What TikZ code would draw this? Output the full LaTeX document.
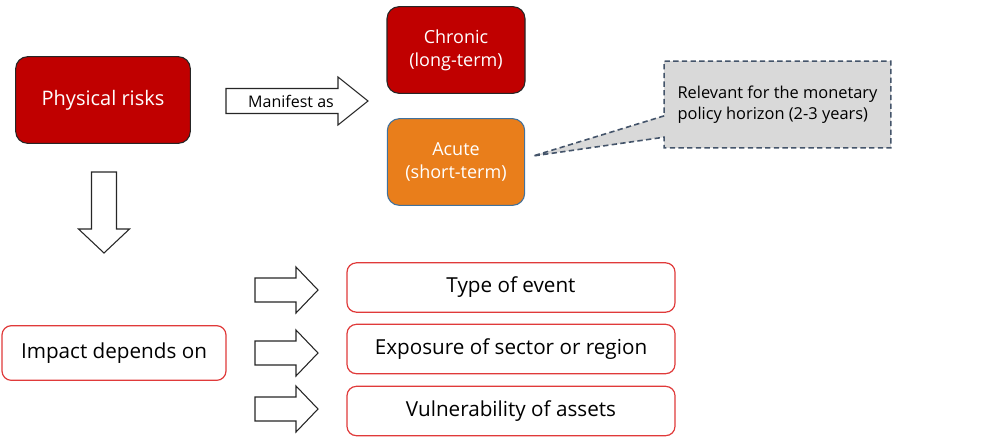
\documentclass[tikz,border=0pt]{standalone}
\usepackage{fontspec}
\setmainfont{Open Sans}
\usetikzlibrary{shapes.callouts}

\definecolor{riskred}{HTML}{C00000}
\definecolor{acuteorange}{HTML}{E97E1B}
\definecolor{acuteblue}{HTML}{41719C}
\definecolor{notegrey}{HTML}{D9D9D9}
\definecolor{noteline}{HTML}{44546A}
\definecolor{boxred}{HTML}{E03A3A}

\tikzset{
  riskbox/.style={draw=black!85, fill=riskred, text=white, line width=0.8pt,
    rounded corners=9pt, align=center, font=\fontsize{13.5}{17}\selectfont},
  factorbox/.style={draw=boxred, fill=white, line width=0.9pt, rounded corners=7pt,
    align=center, font=\fontsize{15.5}{18}\selectfont},
  % block arrow along +x: length / body half width / head half width / head length
  pics/blockarrow/.style n args={4}{code={
    \draw[draw=black!85, fill=white, line width=0.8pt]
      (0,-#2) -- (#1-#4,-#2) -- (#1-#4,-#3) -- (#1,0) -- (#1-#4,#3)
      -- (#1-#4,#2) -- (0,#2) -- cycle;
  }}
}

\begin{document}
\begin{tikzpicture}[x=0.75pt, y=-0.75pt]
  \useasboundingbox (0,0) rectangle (992,444);

  % top part
  \node[riskbox, minimum width=131pt, minimum height=65pt, font=\fontsize{15}{18}\selectfont] (physical) at (103,100) {Physical risks};
  \node[riskbox, minimum width=103.5pt, minimum height=65pt] (chronic) at (456,50) {Chronic\\(long-term)};
  \node[riskbox, fill=acuteorange, draw=acuteblue, minimum width=103pt, minimum height=65pt] (acute) at (456,162) {Acute\\(short-term)};

  \pic (manifest) at (226,101) {blockarrow={142}{12.5}{24}{30}};
  \node[font=\fontsize{12}{14}\selectfont] (manifestlabel) at (291,101) {Manifest as};

  % note on the horizon
  \coordinate (tip) at (533,156);
  \node[rectangle callout, callout absolute pointer={(tip)}, callout pointer width=16pt,
    draw=noteline, fill=notegrey, line width=1.2pt, dash pattern=on 4pt off 2.5pt,
    minimum width=170pt, minimum height=65pt, align=left,
    font=\fontsize{12.3}{16}\selectfont] (note) at (777.5,104.5)
    {Relevant for the monetary\\policy horizon (2-3 years)};

  % bottom part
  \pic[rotate=-90] (down) at (104,172) {blockarrow={81}{12.5}{25.5}{24}};

  \node[factorbox, minimum width=168pt, minimum height=41pt] (impact) at (114,353) {Impact depends on};
  \node[factorbox, minimum width=246pt, minimum height=37pt] (type) at (511,287.5) {Type of event};
  \node[factorbox, minimum width=246pt, minimum height=37pt] (exposure) at (511,349) {Exposure of sector or region};
  \node[factorbox, minimum width=246pt, minimum height=37pt] (vulner) at (511,411) {Vulnerability of assets};

  \foreach \ya in {290,353,409}
    \pic at (255,\ya) {blockarrow={63}{12}{23}{22}};
\end{tikzpicture}
\end{document}
